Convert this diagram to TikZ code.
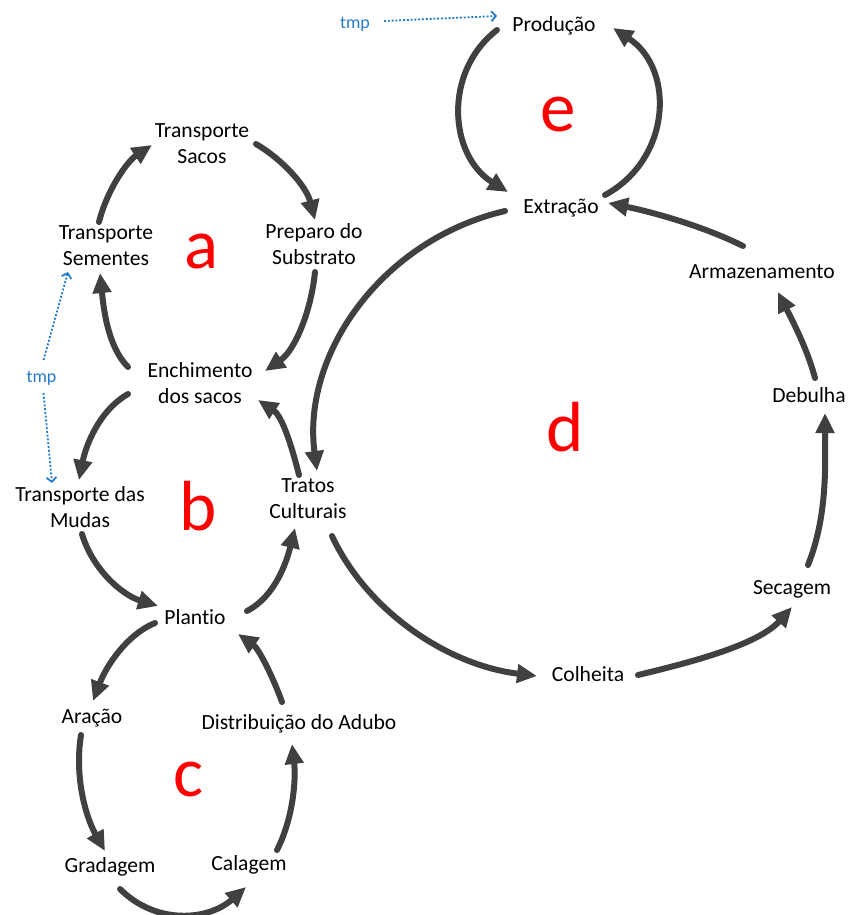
\documentclass[tikz,border=0pt]{standalone}
\usepackage{fontspec}
\setmainfont{Carlito}[Ligatures=NoCommon]
\usetikzlibrary{arrows.meta}
\definecolor{flowgray}{RGB}{64,64,64}
\definecolor{tmpblue}{RGB}{38,124,204}
\definecolor{lblred}{RGB}{255,0,0}
\begin{document}
\begin{tikzpicture}[x=1pt,y=-1pt,
  lbl/.style={inner sep=0pt,align=center,font=\fontsize{21.6}{26}\selectfont,text=black},
  one/.style={lbl,text depth=0pt},
  big/.style={inner sep=0pt,font=\fontsize{71}{80}\selectfont,text=lblred},
  tmptext/.style={inner sep=0pt,font=\fontsize{18}{22}\selectfont,text=tmpblue},
  flow/.style={draw=flowgray,line width=6pt,line cap=round,-{Triangle[length=20pt,width=18pt]}},
  tmpflow/.style={draw=tmpblue,line width=1.8pt,dash pattern=on 2pt off 1.8pt,-{Straight Barb[length=4.5pt,width=10pt]}}]
\useasboundingbox (0,0) rectangle (847,915);
% nodes
\node[one] (prod) at (554,24) {Produção};
\node[one] (extr) at (561,206) {Extração};
\node[lbl] (tsacos) at (202,144) {Transporte\\Sacos};
\node[lbl] (tsem) at (106,246) {Transporte\\Sementes};
\node[lbl] (prep) at (314,244) {Preparo do\\Substrato};
\node[lbl] (ench) at (200,383) {Enchimento\\dos sacos};
\node[one] (arm) at (762,272) {Armazenamento};
\node[one] (deb) at (809,395) {Debulha};
\node[lbl] (tmud) at (80,507) {Transporte das\\Mudas};
\node[lbl] (trat) at (308,499) {Tratos\\Culturais};
\node[one] (plant) at (195,617) {Plantio};
\node[one] (sec) at (792,587) {Secagem};
\node[one] (colh) at (588,674) {Colheita};
\node[one] (arac) at (92,716) {Aração};
\node[one] (dist) at (299,722) {Distribuição do Adubo};
\node[one] (grad) at (110,865) {Gradagem};
\node[one] (cal) at (249,863) {Calagem};
\node[big] (la) at (201.5,252) {a};
\node[big] (lb) at (198,506) {b};
\node[big] (lc) at (189,780) {c};
\node[big] (ld) at (565.5,427) {d};
\node[big] (le) at (558.5,114.5) {e};
\node[tmptext] (tmpa) at (355,24) {tmp};
\node[tmptext] (tmpb) at (41.5,378) {tmp};
% loop e
\draw[flow] ([shift={(-57,6)}]prod.center) .. controls +(-54.5,42.3) and +(-58.6,-36.4) .. ([shift={(-53,-14)}]extr.center);
\draw[flow] ([shift={(44,-11)}]extr.center) .. controls +(66,-35.7) and +(62.6,41.3) .. ([shift={(59,4)}]prod.center);
% loop d
\draw[flow] ([shift={(-19,-26)}]arm.center) .. controls +(-40,-20) and +(44,9) .. ([shift={(47,-3)}]extr.center);
\draw[flow] ([shift={(-56,5)}]extr.center) .. controls +(-124,29) and +(-15.4,-116) .. ([shift={(9,-28)}]trat.center);
\draw[flow] ([shift={(24,37)}]trat.center) .. controls +(35.3,75.5) and +(-89.3,-10.8) .. ([shift={(-51,2)}]colh.center);
\draw[flow] ([shift={(50,1)}]colh.center) .. controls +(52,-12.5) and +(-34,38) .. ([shift={(0,20)}]sec.center);
\draw[flow] ([shift={(16,-22)}]sec.center) .. controls +(20,-50) and +(0,50) .. ([shift={(16,18)}]deb.center);
\draw[flow] ([shift={(6,-17)}]deb.center) .. controls +(-8,-30) and +(14,28) .. ([shift={(16,20)}]arm.center);
% loop a
\draw[flow] ([shift={(-7,-24)}]tsem.center) .. controls +(8,-32) and +(-25,16.5) .. ([shift={(-50,1)}]tsacos.center);
\draw[flow] ([shift={(54,0)}]tsacos.center) .. controls +(27,15.8) and +(-8.7,-33.7) .. ([shift={(1,-24)}]prep.center);
\draw[flow] ([shift={(1,28)}]prep.center) .. controls +(-4,40) and +(29.6,-20.5) .. ([shift={(65,-12)}]ench.center);
\draw[flow] ([shift={(-72,-16)}]ench.center) .. controls +(-21,-21) and +(3.3,32.2) .. ([shift={(-6,27)}]tsem.center);
% loop b
\draw[flow] ([shift={(-72,11)}]ench.center) .. controls +(-29.5,17) and +(6.6,-33.4) .. ([shift={(-1,-27)}]tmud.center);
\draw[flow] ([shift={(2,27)}]tmud.center) .. controls +(10.6,35.7) and +(-35.6,-10.9) .. ([shift={(-37,-11)}]plant.center);
\draw[flow] ([shift={(52,-6)}]plant.center) .. controls +(29,-15) and +(-7.9,31.9) .. ([shift={(-13,29)}]trat.center);
\draw[flow] ([shift={(-9,-24)}]trat.center) .. controls +(-7,-28) and +(24.3,16.2) .. ([shift={(58,17)}]ench.center);
% loop c
\draw[flow] ([shift={(-40,6)}]plant.center) .. controls +(-28,11.4) and +(13.4,-35.3) .. ([shift={(1,-15)}]arac.center);
\draw[flow] ([shift={(-17,-20)}]dist.center) .. controls +(-10,-27.5) and +(20.2,14.2) .. ([shift={(43,17)}]plant.center);
\draw[flow] ([shift={(-11,19)}]arac.center) .. controls +(-6.7,41.8) and +(-19.3,-34) .. ([shift={(-5,-14)}]grad.center);
\draw[flow] ([shift={(10,24)}]grad.center) .. controls +(36,36) and +(-37.8,33.7) .. ([shift={(-3,24)}]cal.center);
\draw[flow] ([shift={(28,-13)}]cal.center) .. controls +(15.7,-30.7) and +(4.2,36.9) .. ([shift={(-7,22)}]dist.center);
% tmp links
\draw[tmpflow] ([shift={(29,-3)}]tmpa.center) -- ([shift={(-57,-8)}]prod.center);
\draw[tmpflow] ([shift={(2,-18)}]tmpb.center) -- ([shift={(-38,26)}]tsem.center);
\draw[tmpflow] ([shift={(2,15)}]tmpb.center) -- ([shift={(-28,-24)}]tmud.center);
\end{tikzpicture}
\end{document}
